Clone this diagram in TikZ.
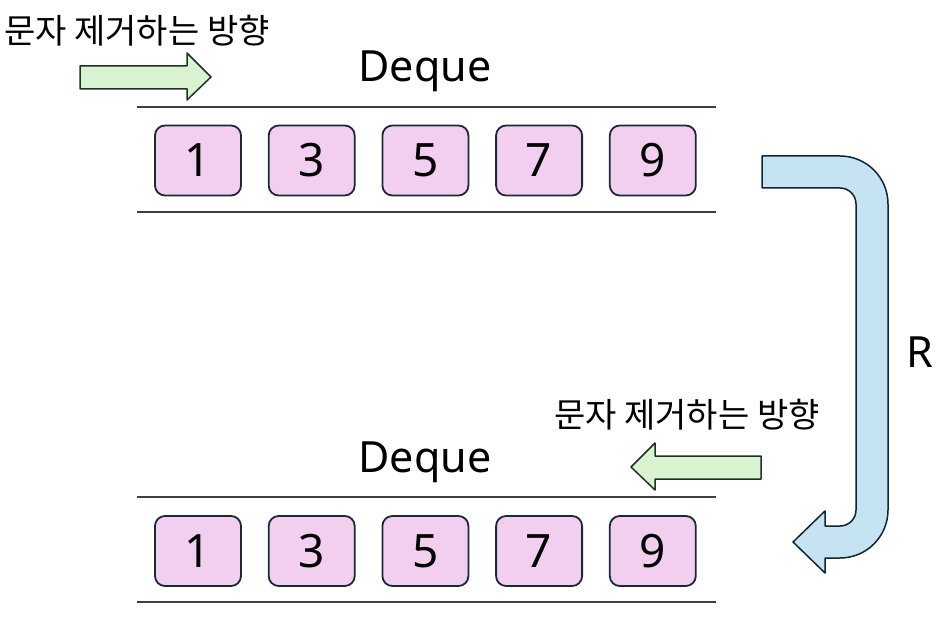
\documentclass[tikz,border=0pt]{standalone}
\usepackage{fontspec}
\setmainfont{Noto Sans}
\newfontfamily\kr{Noto Sans CJK KR}
\usetikzlibrary{positioning}
\definecolor{cellfill}{HTML}{F2CFEE}
\definecolor{cellline}{HTML}{1B2838}
\definecolor{greenfill}{HTML}{D9F2D0}
\definecolor{greenline}{HTML}{1E3326}
\definecolor{bluefill}{HTML}{C5E3F3}
\definecolor{blueline}{HTML}{10252F}
\definecolor{railgray}{HTML}{404040}
\begin{document}
\begin{tikzpicture}[x=1pt,y=1pt,line join=round,
  cell/.style={draw=cellline,fill=cellfill,line width=1.8pt,rounded corners=10pt,minimum width=86pt,minimum height=70pt,inner sep=0pt,font=\fontsize{46}{50}\selectfont},
  title/.style={anchor=base,inner sep=0pt,font=\fontsize{43}{47}\selectfont},
  note/.style={anchor=base west,inner sep=0pt,font=\kr\fontsize{34}{37}\selectfont},
  rail/.style={draw=railgray,line width=2pt},
  greenarr/.style={draw=greenline,fill=greenfill,line width=1.5pt},
  bluearr/.style={draw=blueline,fill=bluefill,line width=1.5pt}]
\useasboundingbox (0,0) rectangle (951,625);
% upper deque
\node[note] (ntop) at (4,581) {문자 제거하는 방향};
\node[title] (dtop) at (425,543) {Deque};
\draw[greenarr] (80,559)--(187,559)--(187,572)--(211,548)--(187,525)--(187,536)--(80,536)--cycle;
\draw[rail] (137,518)--(716,518) (137,413)--(716,413);
% lower deque
\node[note] (nbot) at (554,198) {문자 제거하는 방향};
\node[title] (dbot) at (425,153) {Deque};
\draw[greenarr] (761,169)--(655,169)--(655,182)--(631,158)--(655,135)--(655,146)--(761,146)--cycle;
\draw[rail] (137,128)--(716,128) (137,23)--(716,23);
\foreach \v [count=\i] in {1,3,5,7,9}{
  \node[cell] (t\i) at ({198+113.7*(\i-1)},464.5) {\v};
  \node[cell] (b\i) at ({198+113.7*(\i-1)},74) {\v};
}
% reverse
\draw[bluearr] (762,469)--(840,469) arc[start angle=90,end angle=0,radius=48]--(888,115)
  arc[start angle=0,end angle=-90,radius=48]--(825,67)--(825,52)--(793,83)--(825,114)--(825,99)--(840,99)
  arc[start angle=-90,end angle=0,radius=16]--(856,421) arc[start angle=0,end angle=90,radius=16]--(762,437)--cycle;
\node[font=\fontsize{43}{47}\selectfont] (r) at (920,273) {R};
\end{tikzpicture}
\end{document}
